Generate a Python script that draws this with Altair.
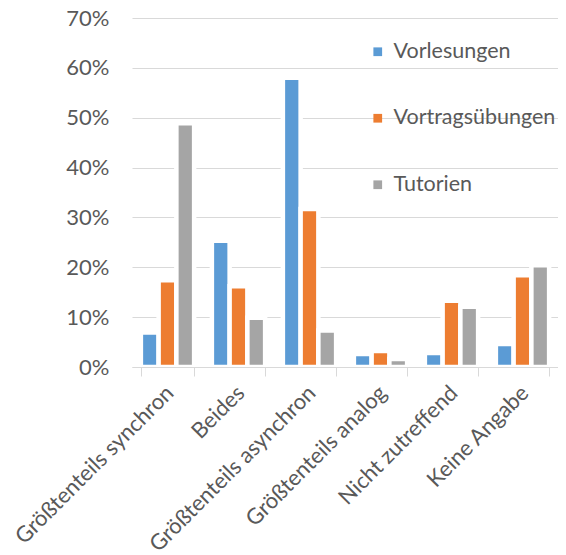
import altair as alt
import pandas as pd

categories = ["Größtenteils synchron", "Beides", "Größtenteils asynchron",
              "Größtenteils analog", "Nicht zutreffend", "Keine Angabe"]
series = ["Vorlesungen", "Vortragsübungen", "Tutorien"]
vorlesungen = [0.069, 0.253, 0.580, 0.026, 0.028, 0.046]
vortragsuebungen = [0.174, 0.162, 0.317, 0.032, 0.133, 0.184]
tutorien = [0.489, 0.099, 0.073, 0.016, 0.121, 0.204]
colors = ["#5B9BD5", "#ED7D31", "#A5A5A5"]

rows = []
for s, vals in zip(series, [vorlesungen, vortragsuebungen, tutorien]):
    for c, v in zip(categories, vals):
        rows.append({"Kategorie": c, "Serie": s, "Wert": v})
df = pd.DataFrame(rows)

FONT = "Lato"
TEXT = "#595959"

chart = alt.Chart(df).mark_bar(stroke="white", strokeWidth=4.5).encode(
    x=alt.X("Kategorie:N", sort=categories, title=None,
            scale=alt.Scale(paddingInner=0.25, paddingOuter=0.125),
            axis=alt.Axis(labelAngle=-45, labelAlign="right", labelBaseline="middle",
                          labelFontSize=22, labelFont=FONT, labelColor=TEXT,
                          labelPadding=13, labelOffset=2, labelLimit=0,
                          labelOverlap=False,
                          tickBand="extent", tickSize=9, tickColor="#D9D9D9",
                          domainColor="#D9D9D9", domainWidth=1.2, grid=False,
                          zindex=1)),
    xOffset=alt.XOffset("Serie:N", sort=series, scale=alt.Scale(paddingInner=0, paddingOuter=0)),
    y=alt.Y("Wert:Q", title=None,
            scale=alt.Scale(domain=[0, 0.7], nice=False),
            axis=alt.Axis(format=".0%", values=[0, 0.1, 0.2, 0.3, 0.4, 0.5, 0.6, 0.7],
                          labelFontSize=22, labelFont=FONT, labelColor=TEXT,
                          labelPadding=23, ticks=False, domain=False, labelLimit=0,
                          gridColor="#D9D9D9", gridWidth=1.2)),
    color=alt.Color("Serie:N", sort=series,
                    scale=alt.Scale(domain=series, range=colors),
                    legend=alt.Legend(title=None, orient="none", legendX=235, legendY=23,
                                      symbolType="square", symbolSize=76,
                                      symbolStrokeWidth=0, labelLimit=0,
                                      labelFontSize=21.5, labelFont=FONT, labelColor=TEXT,
                                      labelOffset=5, rowPadding=43.5, padding=0)),
).properties(
    width=426, height=349,
    autosize=alt.AutoSizeParams(type="none"),
    padding={"left": 124, "top": 10, "right": 0, "bottom": 187},
).configure_view(stroke=None)

chart.save("out.html", embed_options={"renderer": "svg", "actions": False})
